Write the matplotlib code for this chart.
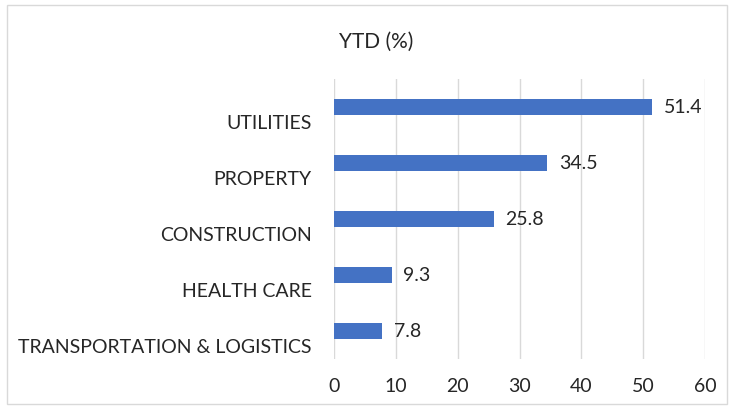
import matplotlib.pyplot as plt
from matplotlib.patches import Rectangle

categories = ["TRANSPORTATION & LOGISTICS", "HEALTH CARE", "CONSTRUCTION", "PROPERTY", "UTILITIES"]
values = [7.8, 9.3, 25.8, 34.5, 51.4]
xticks = [0, 10, 20, 30, 40, 50, 60]
title = "YTD (%)"

plt.rcParams['font.family'] = ['Lato', 'DejaVu Sans']

W, H = 732, 410
fig = plt.figure(figsize=(W / 100, H / 100), dpi=100)
fig.patches.append(Rectangle((7 / W, 5 / H), 720 / W, 399 / H, transform=fig.transFigure,
                             fill=False, edgecolor='#d9d9d9', lw=1))

ax = fig.add_axes([334 / W, 1 - 360 / H, (705 - 334) / W, (360 - 80) / H])
y = list(range(len(categories)))
bars = ax.barh(y, values, height=0.30, color='#4472C4')
ax.set_ylim(-0.5, len(categories) - 0.5)
ax.set_xlim(0, 60)
ax.set_xticks(xticks)
ax.set_xticklabels([str(t) for t in xticks], fontsize=14, color='#262626')
# category labels sit slightly below the bar centres, as in the source chart
ax.set_yticks([i - 0.25 for i in y])
ax.set_yticklabels(categories, fontsize=14, color='#262626')
ax.tick_params(axis='both', length=0)
ax.tick_params(axis='y', pad=16)
ax.tick_params(axis='x', pad=13)
ax.set_xticks(xticks)
ax.grid(axis='x', color='#d9d9d9', lw=1)
ax.grid(axis='y', visible=False)
ax.set_axisbelow(True)
for s in ax.spines.values():
    s.set_visible(False)
for b, v in zip(bars, values):
    ax.text(v + 1.9, b.get_y() + b.get_height() / 2, f"{v}", va='center', ha='left',
            fontsize=14, color='#262626')
fig.text(376 / W, 1 - 42 / H, title, ha='center', va='center', fontsize=15, color='#262626')
fig.savefig('out.png', dpi=100)
